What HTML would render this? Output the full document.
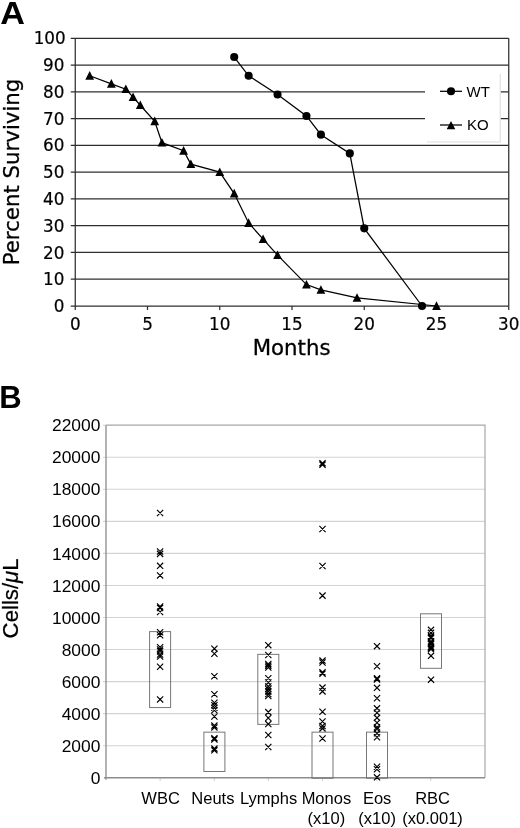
<!DOCTYPE html>
<html lang="en"><head><meta charset="utf-8"><title>Figure</title>
<style>
html,body{margin:0;padding:0;background:#fff;}
body{width:520px;height:828px;overflow:hidden;}
svg{display:block;}
text{fill:#000;}
</style></head><body>
<svg width="520" height="828" viewBox="0 0 520 828">
<rect width="520" height="828" fill="#fff"/>
<g id="chartA">
<g stroke="#2e2e2e" stroke-width="1.25" fill="none">
<line x1="70.75" y1="306.00" x2="508.75" y2="306.00"/>
<line x1="70.75" y1="279.23" x2="508.75" y2="279.23"/>
<line x1="70.75" y1="252.46" x2="508.75" y2="252.46"/>
<line x1="70.75" y1="225.69" x2="508.75" y2="225.69"/>
<line x1="70.75" y1="198.92" x2="508.75" y2="198.92"/>
<line x1="70.75" y1="172.15" x2="508.75" y2="172.15"/>
<line x1="70.75" y1="145.38" x2="508.75" y2="145.38"/>
<line x1="70.75" y1="118.61" x2="508.75" y2="118.61"/>
<line x1="70.75" y1="91.84" x2="508.75" y2="91.84"/>
<line x1="70.75" y1="65.07" x2="508.75" y2="65.07"/>
<line x1="70.75" y1="38.30" x2="508.75" y2="38.30"/>
<line x1="75.25" y1="38.30" x2="75.25" y2="310.00"/>
<line x1="508.75" y1="38.30" x2="508.75" y2="306.00"/>
<line x1="147.50" y1="306.00" x2="147.50" y2="310.00"/>
<line x1="219.75" y1="306.00" x2="219.75" y2="310.00"/>
<line x1="292.00" y1="306.00" x2="292.00" y2="310.00"/>
<line x1="364.25" y1="306.00" x2="364.25" y2="310.00"/>
<line x1="436.50" y1="306.00" x2="436.50" y2="310.00"/>
<line x1="508.75" y1="306.00" x2="508.75" y2="310.00"/>
</g>
<rect x="425" y="73" width="75" height="69" fill="#fff"/>
<path d="M500.3 74V141.8H427" fill="none" stroke="#e2e2e2" stroke-width="1.2"/>
<polyline points="89.70,75.78 111.38,83.81 125.83,89.16 133.05,97.19 140.28,105.22 154.72,121.29 161.95,142.70 183.62,150.73 190.85,164.12 219.75,172.15 234.20,193.57 248.65,223.01 263.10,239.07 277.55,255.14 306.45,284.58 320.90,289.94 357.02,297.97 436.50,306.00" fill="none" stroke="#000" stroke-width="1.25"/>
<polyline points="234.20,57.04 248.65,75.78 277.55,94.52 306.45,115.93 320.90,134.67 349.80,153.41 364.25,228.37 422.05,306.00" fill="none" stroke="#000" stroke-width="1.25"/>
<path d="M89.70 71.08L94.10 79.68H85.30Z" fill="#000"/>
<path d="M111.38 79.11L115.78 87.71H106.97Z" fill="#000"/>
<path d="M125.83 84.46L130.22 93.06H121.42Z" fill="#000"/>
<path d="M133.05 92.49L137.45 101.09H128.65Z" fill="#000"/>
<path d="M140.28 100.52L144.68 109.12H135.88Z" fill="#000"/>
<path d="M154.72 116.59L159.12 125.19H150.32Z" fill="#000"/>
<path d="M161.95 138.00L166.35 146.60H157.55Z" fill="#000"/>
<path d="M183.62 146.03L188.03 154.63H179.22Z" fill="#000"/>
<path d="M190.85 159.42L195.25 168.02H186.45Z" fill="#000"/>
<path d="M219.75 167.45L224.15 176.05H215.35Z" fill="#000"/>
<path d="M234.20 188.87L238.60 197.47H229.80Z" fill="#000"/>
<path d="M248.65 218.31L253.05 226.91H244.25Z" fill="#000"/>
<path d="M263.10 234.38L267.50 242.97H258.70Z" fill="#000"/>
<path d="M277.55 250.44L281.95 259.04H273.15Z" fill="#000"/>
<path d="M306.45 279.88L310.85 288.48H302.05Z" fill="#000"/>
<path d="M320.90 285.24L325.30 293.84H316.50Z" fill="#000"/>
<path d="M357.02 293.27L361.42 301.87H352.62Z" fill="#000"/>
<path d="M436.50 301.30L440.90 309.90H432.10Z" fill="#000"/>
<circle cx="234.20" cy="57.04" r="4.05" fill="#000"/>
<circle cx="248.65" cy="75.78" r="4.05" fill="#000"/>
<circle cx="277.55" cy="94.52" r="4.05" fill="#000"/>
<circle cx="306.45" cy="115.93" r="4.05" fill="#000"/>
<circle cx="320.90" cy="134.67" r="4.05" fill="#000"/>
<circle cx="349.80" cy="153.41" r="4.05" fill="#000"/>
<circle cx="364.25" cy="228.37" r="4.05" fill="#000"/>
<circle cx="422.05" cy="306.00" r="4.05" fill="#000"/>
<line x1="440" y1="91.3" x2="462" y2="91.3" stroke="#000" stroke-width="1.25"/><circle cx="451" cy="91.3" r="4.05" fill="#000"/>
<line x1="440" y1="125" x2="462" y2="125" stroke="#000" stroke-width="1.25"/><path d="M451.00 120.90L455.30 129.20H446.70Z" fill="#000"/>
<text x="466.6" y="96.8" font-family='"Liberation Sans", sans-serif' font-size="15">WT</text>
<text x="466.9" y="130.1" font-family='"Liberation Sans", sans-serif' font-size="15">KO</text>
<g font-family='"DejaVu Sans", "Liberation Sans", sans-serif' font-size="16.8" fill="#000" stroke="#000" stroke-width="0.2">
<text x="64.4" y="312.10" text-anchor="end">0</text>
<text x="64.4" y="285.33" text-anchor="end">10</text>
<text x="64.4" y="258.56" text-anchor="end">20</text>
<text x="64.4" y="231.79" text-anchor="end">30</text>
<text x="64.4" y="205.02" text-anchor="end">40</text>
<text x="64.4" y="178.25" text-anchor="end">50</text>
<text x="64.4" y="151.48" text-anchor="end">60</text>
<text x="64.4" y="124.71" text-anchor="end">70</text>
<text x="64.4" y="97.94" text-anchor="end">80</text>
<text x="64.4" y="71.17" text-anchor="end">90</text>
<text x="65.7" y="44.40" text-anchor="end">100</text>
<text x="75.25" y="329.6" text-anchor="middle">0</text>
<text x="147.50" y="329.6" text-anchor="middle">5</text>
<text x="219.75" y="329.6" text-anchor="middle">10</text>
<text x="292.00" y="329.6" text-anchor="middle">15</text>
<text x="364.25" y="329.6" text-anchor="middle">20</text>
<text x="436.50" y="329.6" text-anchor="middle">25</text>
<text x="508.75" y="329.6" text-anchor="middle">30</text>
</g>
<text x="291.6" y="355" text-anchor="middle" font-family='"DejaVu Sans", "Liberation Sans", sans-serif' font-size="21.3" stroke="#000" stroke-width="0.3">Months</text>
<text transform="translate(19 172) rotate(-90)" text-anchor="middle" font-family='"DejaVu Sans", "Liberation Sans", sans-serif' font-size="21.3" stroke="#000" stroke-width="0.3">Percent Surviving</text>
<text transform="translate(0.2 23.5) scale(1.075 1)" font-family='"Liberation Sans", sans-serif' font-weight="bold" font-size="31.8">A</text>
</g>
<g id="chartB">
<g stroke="#d3d3d3" stroke-width="1.1">
<line x1="103.00" y1="745.70" x2="485.00" y2="745.70"/>
<line x1="103.00" y1="713.65" x2="485.00" y2="713.65"/>
<line x1="103.00" y1="681.60" x2="485.00" y2="681.60"/>
<line x1="103.00" y1="649.55" x2="485.00" y2="649.55"/>
<line x1="103.00" y1="617.50" x2="485.00" y2="617.50"/>
<line x1="103.00" y1="585.45" x2="485.00" y2="585.45"/>
<line x1="103.00" y1="553.40" x2="485.00" y2="553.40"/>
<line x1="103.00" y1="521.35" x2="485.00" y2="521.35"/>
<line x1="103.00" y1="489.30" x2="485.00" y2="489.30"/>
<line x1="103.00" y1="457.25" x2="485.00" y2="457.25"/>
<line x1="160.13" y1="777.75" x2="160.13" y2="780.95"/>
<line x1="214.26" y1="777.75" x2="214.26" y2="780.95"/>
<line x1="268.39" y1="777.75" x2="268.39" y2="780.95"/>
<line x1="322.52" y1="777.75" x2="322.52" y2="780.95"/>
<line x1="376.65" y1="777.75" x2="376.65" y2="780.95"/>
<line x1="430.78" y1="777.75" x2="430.78" y2="780.95"/>
<line x1="103.00" y1="425.20" x2="106.00" y2="425.20"/>
</g>
<path d="M106.0 425.20H485.0V777.75" fill="none" stroke="#a8a8a8" stroke-width="1.2"/>
<path d="M106.0 425.20V779.75M104.0 777.75H485.0" fill="none" stroke="#8c8c8c" stroke-width="1.3"/>
<g fill="none" stroke="#777" stroke-width="1">
<rect x="149.60" y="631.60" width="21" height="75.94"/>
<rect x="203.90" y="732.16" width="21" height="39.34"/>
<rect x="257.80" y="654.36" width="21" height="70.03"/>
<rect x="312.00" y="732.16" width="21" height="46.07"/>
<rect x="366.50" y="732.16" width="21" height="46.07"/>
<rect x="420.50" y="613.81" width="21" height="54.49"/>
</g>
<path d="M157.00 509.93l6.2 6.2m0 -6.2l-6.2 6.2M157.00 548.38l6.2 6.2m0 -6.2l-6.2 6.2M157.00 550.78l6.2 6.2m0 -6.2l-6.2 6.2M157.00 562.72l6.2 6.2m0 -6.2l-6.2 6.2M157.00 572.33l6.2 6.2m0 -6.2l-6.2 6.2M157.00 603.34l6.2 6.2m0 -6.2l-6.2 6.2M157.00 604.95l6.2 6.2m0 -6.2l-6.2 6.2M157.00 608.95l6.2 6.2m0 -6.2l-6.2 6.2M157.00 629.14l6.2 6.2m0 -6.2l-6.2 6.2M157.00 632.19l6.2 6.2m0 -6.2l-6.2 6.2M157.00 644.21l6.2 6.2m0 -6.2l-6.2 6.2M157.00 646.29l6.2 6.2m0 -6.2l-6.2 6.2M157.00 648.21l6.2 6.2m0 -6.2l-6.2 6.2M157.00 651.42l6.2 6.2m0 -6.2l-6.2 6.2M157.00 653.50l6.2 6.2m0 -6.2l-6.2 6.2M157.00 663.60l6.2 6.2m0 -6.2l-6.2 6.2M157.00 696.29l6.2 6.2m0 -6.2l-6.2 6.2M211.30 645.57l6.2 6.2m0 -6.2l-6.2 6.2M211.30 650.62l6.2 6.2m0 -6.2l-6.2 6.2M211.30 673.21l6.2 6.2m0 -6.2l-6.2 6.2M211.30 691.16l6.2 6.2m0 -6.2l-6.2 6.2M211.30 699.65l6.2 6.2m0 -6.2l-6.2 6.2M211.30 702.14l6.2 6.2m0 -6.2l-6.2 6.2M211.30 704.62l6.2 6.2m0 -6.2l-6.2 6.2M211.30 707.18l6.2 6.2m0 -6.2l-6.2 6.2M211.30 713.43l6.2 6.2m0 -6.2l-6.2 6.2M211.30 722.49l6.2 6.2m0 -6.2l-6.2 6.2M211.30 724.33l6.2 6.2m0 -6.2l-6.2 6.2M211.30 735.07l6.2 6.2m0 -6.2l-6.2 6.2M211.30 736.35l6.2 6.2m0 -6.2l-6.2 6.2M211.30 745.48l6.2 6.2m0 -6.2l-6.2 6.2M211.30 747.25l6.2 6.2m0 -6.2l-6.2 6.2M265.20 642.04l6.2 6.2m0 -6.2l-6.2 6.2M265.20 651.90l6.2 6.2m0 -6.2l-6.2 6.2M265.20 660.87l6.2 6.2m0 -6.2l-6.2 6.2M265.20 662.56l6.2 6.2m0 -6.2l-6.2 6.2M265.20 664.40l6.2 6.2m0 -6.2l-6.2 6.2M265.20 675.13l6.2 6.2m0 -6.2l-6.2 6.2M265.20 679.46l6.2 6.2m0 -6.2l-6.2 6.2M265.20 683.31l6.2 6.2m0 -6.2l-6.2 6.2M265.20 685.79l6.2 6.2m0 -6.2l-6.2 6.2M265.20 688.28l6.2 6.2m0 -6.2l-6.2 6.2M265.20 690.84l6.2 6.2m0 -6.2l-6.2 6.2M265.20 692.92l6.2 6.2m0 -6.2l-6.2 6.2M265.20 709.03l6.2 6.2m0 -6.2l-6.2 6.2M265.20 714.96l6.2 6.2m0 -6.2l-6.2 6.2M265.20 720.97l6.2 6.2m0 -6.2l-6.2 6.2M265.20 731.94l6.2 6.2m0 -6.2l-6.2 6.2M265.20 743.88l6.2 6.2m0 -6.2l-6.2 6.2M319.40 460.08l6.2 6.2m0 -6.2l-6.2 6.2M319.40 461.52l6.2 6.2m0 -6.2l-6.2 6.2M319.40 525.94l6.2 6.2m0 -6.2l-6.2 6.2M319.40 562.96l6.2 6.2m0 -6.2l-6.2 6.2M319.40 592.53l6.2 6.2m0 -6.2l-6.2 6.2M319.40 657.51l6.2 6.2m0 -6.2l-6.2 6.2M319.40 659.35l6.2 6.2m0 -6.2l-6.2 6.2M319.40 669.21l6.2 6.2m0 -6.2l-6.2 6.2M319.40 670.65l6.2 6.2m0 -6.2l-6.2 6.2M319.40 684.51l6.2 6.2m0 -6.2l-6.2 6.2M319.40 688.28l6.2 6.2m0 -6.2l-6.2 6.2M319.40 708.63l6.2 6.2m0 -6.2l-6.2 6.2M319.40 718.40l6.2 6.2m0 -6.2l-6.2 6.2M319.40 722.81l6.2 6.2m0 -6.2l-6.2 6.2M319.40 725.29l6.2 6.2m0 -6.2l-6.2 6.2M319.40 735.39l6.2 6.2m0 -6.2l-6.2 6.2M373.90 643.08l6.2 6.2m0 -6.2l-6.2 6.2M373.90 663.20l6.2 6.2m0 -6.2l-6.2 6.2M373.90 675.13l6.2 6.2m0 -6.2l-6.2 6.2M373.90 676.42l6.2 6.2m0 -6.2l-6.2 6.2M373.90 684.75l6.2 6.2m0 -6.2l-6.2 6.2M373.90 695.17l6.2 6.2m0 -6.2l-6.2 6.2M373.90 705.26l6.2 6.2m0 -6.2l-6.2 6.2M373.90 709.67l6.2 6.2m0 -6.2l-6.2 6.2M373.90 714.72l6.2 6.2m0 -6.2l-6.2 6.2M373.90 719.68l6.2 6.2m0 -6.2l-6.2 6.2M373.90 724.09l6.2 6.2m0 -6.2l-6.2 6.2M373.90 726.01l6.2 6.2m0 -6.2l-6.2 6.2M373.90 730.26l6.2 6.2m0 -6.2l-6.2 6.2M373.90 734.11l6.2 6.2m0 -6.2l-6.2 6.2M373.90 763.59l6.2 6.2m0 -6.2l-6.2 6.2M373.90 766.16l6.2 6.2m0 -6.2l-6.2 6.2M373.90 774.25l6.2 6.2m0 -6.2l-6.2 6.2M427.90 626.76l6.2 6.2m0 -6.2l-6.2 6.2M427.90 629.77l6.2 6.2m0 -6.2l-6.2 6.2M427.90 632.67l6.2 6.2m0 -6.2l-6.2 6.2M427.90 633.90l6.2 6.2m0 -6.2l-6.2 6.2M427.90 635.17l6.2 6.2m0 -6.2l-6.2 6.2M427.90 638.31l6.2 6.2m0 -6.2l-6.2 6.2M427.90 639.69l6.2 6.2m0 -6.2l-6.2 6.2M427.90 641.07l6.2 6.2m0 -6.2l-6.2 6.2M427.90 643.58l6.2 6.2m0 -6.2l-6.2 6.2M427.90 644.83l6.2 6.2m0 -6.2l-6.2 6.2M427.90 646.08l6.2 6.2m0 -6.2l-6.2 6.2M427.90 652.73l6.2 6.2m0 -6.2l-6.2 6.2M427.90 676.58l6.2 6.2m0 -6.2l-6.2 6.2" fill="none" stroke="#000" stroke-width="1.15"/>
<g font-family='"Liberation Sans", sans-serif' font-size="17.4" fill="#000" text-anchor="end">
<text x="100.4" y="783.85">0</text>
<text x="100.4" y="751.80">2000</text>
<text x="100.4" y="719.75">4000</text>
<text x="100.4" y="687.70">6000</text>
<text x="100.4" y="655.65">8000</text>
<text x="100.4" y="623.60">10000</text>
<text x="100.4" y="591.55">12000</text>
<text x="100.4" y="559.50">14000</text>
<text x="100.4" y="527.45">16000</text>
<text x="100.4" y="495.40">18000</text>
<text x="100.4" y="463.35">20000</text>
<text x="100.4" y="431.30">22000</text>
</g>
<g font-family='"Liberation Sans", sans-serif' font-size="16.5" fill="#000" text-anchor="middle">
<text x="160.6" y="803.9">WBC</text>
<text x="212.9" y="803.9">Neuts</text>
<text x="268.6" y="803.9">Lymphs</text>
<text x="326.4" y="803.9">Monos</text>
<text x="326.4" y="823.6">(x10)</text>
<text x="377.1" y="803.9">Eos</text>
<text x="377.1" y="823.6">(x10)</text>
<text x="432.6" y="803.9">RBC</text>
<text x="432.6" y="823.6">(x0.001)</text>
</g>
<text transform="translate(18.4 598.4) rotate(-90)" text-anchor="middle" font-family='"Liberation Sans", sans-serif' font-size="22.2" stroke="#000" stroke-width="0.25">Cells/<tspan font-style="italic">μ</tspan>L</text>
<text x="-0.7" y="408.1" font-family='"Liberation Sans", sans-serif' font-weight="bold" font-size="31">B</text>
</g>
</svg>
</body></html>
